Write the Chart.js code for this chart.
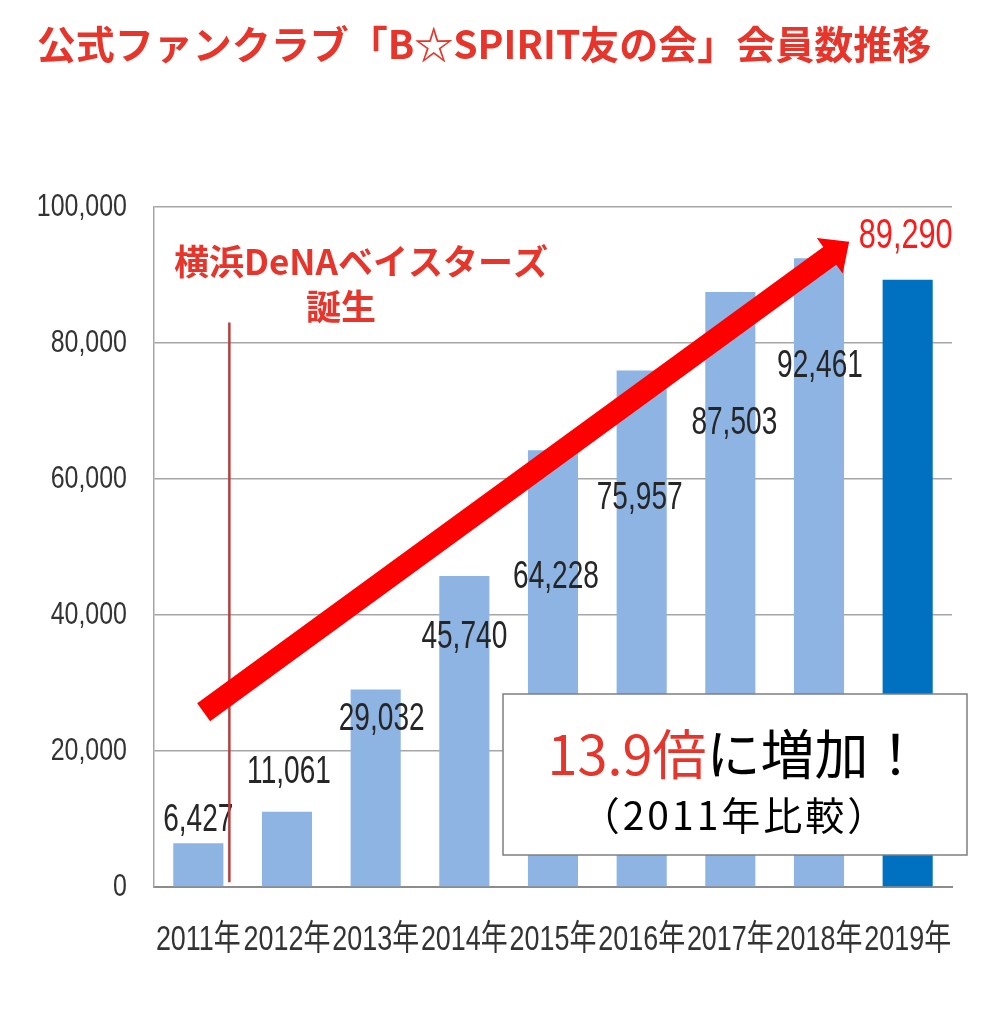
<!DOCTYPE html>
<html>
<head>
<meta charset="utf-8">
<script src="https://cdn.jsdelivr.net/npm/chart.js@4.4.1/dist/chart.umd.min.js"></script>
<style>
html,body{margin:0;padding:0;background:#fff;}
#wrap{width:1004px;height:1024px;position:relative;}
</style>
</head>
<body>
<div id="wrap"><canvas id="c" width="1004" height="1024"></canvas></div>
<script>
// ---- data ----
const categories = ['2011年','2012年','2013年','2014年','2015年','2016年','2017年','2018年','2019年'];
const members = [6427, 11061, 29032, 45740, 64228, 75957, 87503, 92461, 89290];
const yTickValues = [0, 20000, 40000, 60000, 80000, 100000];
const titleText = '公式ファンクラブ「B☆SPIRIT友の会」会員数推移';
const eventText = ['横浜DeNAベイスターズ', '誕生'];
const growthText = ['13.9倍', 'に増加！', '（2011年比較）'];

const NUMF = "'Liberation Sans', 'Noto Sans CJK JP', sans-serif";
const JP = "'Noto Sans CJK JP', 'Noto Sans', sans-serif";
const RED = '#E8352B';

const fmt = v => Number(v).toLocaleString('en-US');

function condensed(ctx, text, x, y, font, k, align, color) {
  ctx.save();
  ctx.translate(x, y);
  ctx.scale(k, 1);
  ctx.font = font;
  ctx.textAlign = align;
  ctx.textBaseline = 'middle';
  ctx.fillStyle = color;
  ctx.fillText(text, 0, 0);
  ctx.restore();
}

const annot = {
  id: 'annot',
  afterDatasetsDraw(chart, args, o) {
    const ctx = chart.ctx;
    const xs = chart.scales.x, ys = chart.scales.y;
    const meta = chart.getDatasetMeta(0);
    ctx.save();
    // axis tick labels (condensed)
    ys.ticks.forEach(t => {
      condensed(ctx, fmt(t.value), ys.right - 27, ys.getPixelForValue(t.value), '32px ' + NUMF, 0.78, 'right', '#333');
    });
    xs.ticks.forEach((t, i) => {
      condensed(ctx, categories[i], xs.getPixelForTick(i), xs.top + 53, '35px ' + NUMF, 0.77, 'center', '#333');
    });
    // value labels
    meta.data.forEach((bar, i) => {
      const last = i === members.length - 1;
      condensed(ctx, fmt(members[i]), bar.x + o.labelDx[i], bar.y + o.labelDy[i],
        last ? '42px ' + NUMF : '39px ' + NUMF, last ? 0.73 : 0.72, 'center', last ? '#FF1A1A' : '#262626');
    });
    // vertical event line
    const lx = xs.getPixelForValue(o.eventLine.x);
    ctx.strokeStyle = '#B5403F';
    ctx.lineWidth = 2.5;
    ctx.beginPath();
    ctx.moveTo(lx, ys.getPixelForValue(o.eventLine.from));
    ctx.lineTo(lx, ys.getPixelForValue(o.eventLine.to));
    ctx.stroke();
    // event text
    ctx.textAlign = 'center';
    ctx.textBaseline = 'middle';
    ctx.fillStyle = RED;
    ctx.font = 'bold 35px ' + JP;
    ctx.fillText(eventText[0], o.eventTextPos[0], o.eventTextPos[1]);
    ctx.fillText(eventText[1], o.eventTextPos[2], o.eventTextPos[3]);
    // arrow
    const p0 = {x: xs.getPixelForValue(o.arrow.x0), y: ys.getPixelForValue(o.arrow.y0)};
    const p1 = {x: xs.getPixelForValue(o.arrow.x1), y: ys.getPixelForValue(o.arrow.y1)};
    const dx = p1.x - p0.x, dy = p1.y - p0.y, len = Math.hypot(dx, dy);
    const u = {x: dx/len, y: dy/len}, n = {x: -u.y, y: u.x};
    const w = o.arrow.shaft/2, hw = o.arrow.headHalf, L = o.arrow.headLen;
    const b = {x: p1.x - u.x*L, y: p1.y - u.y*L};
    ctx.fillStyle = '#FF0000';
    ctx.beginPath();
    ctx.moveTo(p0.x + n.x*w, p0.y + n.y*w);
    ctx.lineTo(b.x + n.x*w, b.y + n.y*w);
    ctx.lineTo(b.x + n.x*hw, b.y + n.y*hw);
    ctx.lineTo(p1.x, p1.y);
    ctx.lineTo(b.x - n.x*hw, b.y - n.y*hw);
    ctx.lineTo(b.x - n.x*w, b.y - n.y*w);
    ctx.lineTo(p0.x - n.x*w, p0.y - n.y*w);
    ctx.closePath();
    ctx.fill();
    // growth box
    const bx = o.box;
    ctx.fillStyle = '#FFFFFF';
    ctx.fillRect(bx.x, bx.y, bx.w, bx.h);
    ctx.strokeStyle = '#7F7F7F';
    ctx.lineWidth = 1.5;
    ctx.strokeRect(bx.x, bx.y, bx.w, bx.h);
    const cx = bx.x + bx.w/2;
    ctx.font = '54px ' + JP;
    const w1 = ctx.measureText(growthText[0]).width;
    const w2 = ctx.measureText(growthText[1]).width;
    const sx = cx - (w1 + w2)/2 + o.line1Dx;
    ctx.textAlign = 'left';
    ctx.fillStyle = RED;
    ctx.fillText(growthText[0], sx, bx.y + o.line1Dy);
    ctx.fillStyle = '#000';
    ctx.fillText(growthText[1], sx + w1, bx.y + o.line1Dy);
    ctx.textAlign = 'center';
    ctx.font = '39px ' + JP;
    try { ctx.letterSpacing = '3px'; } catch (e) {}
    ctx.fillText(growthText[2], cx, bx.y + o.line2Dy);
    try { ctx.letterSpacing = '0px'; } catch (e) {}
    // title
    ctx.fillStyle = RED;
    ctx.font = 'bold 39px ' + JP;
    ctx.fillText(titleText, o.titlePos[0], o.titlePos[1]);
    ctx.restore();
  }
};

new Chart(document.getElementById('c'), {
  type: 'bar',
  data: {
    labels: categories,
    datasets: [{
      data: members,
      backgroundColor: members.map((_, i) => i === members.length - 1 ? '#0070C0' : '#8DB4E2'),
      borderWidth: 0,
      categoryPercentage: 1,
      barPercentage: 0.565
    }]
  },
  options: {
    responsive: false,
    animation: false,
    devicePixelRatio: 1,
    layout: {padding: {top: 207, right: 52, left: 0, bottom: 0}},
    plugins: {
      legend: {display: false},
      tooltip: {enabled: false},
      annot: {
        labelDx: [0, 2, 6, 0, 3, -2, 4, 1, -2],
        labelDy: [-23, -40, 30, 61, 127, 128, 131, 108, -43],
        eventLine: {x: 0.35, from: 700, to: 83000},
        eventTextPos: [361, 262, 341, 307],
        arrow: {x0: 0.06, y0: 25700, x1: 7.34, y1: 94900, shaft: 22, headHalf: 22, headLen: 24},
        box: {x: 503, y: 694, w: 464, h: 161},
        line1Dx: 0, line1Dy: 60, line2Dy: 121,
        titlePos: [484, 44]
      }
    },
    scales: {
      x: {
        grid: {display: false, drawTicks: false},
        border: {color: '#8C8C8C', width: 2},
        ticks: {display: false, autoSkip: false, maxRotation: 0},
        afterFit(s) { s.height = 137; }
      },
      y: {
        min: 0, max: 100000,
        afterBuildTicks(s) { s.ticks = yTickValues.map(v => ({value: v})); },
        ticks: {display: false},
        grid: {color: '#A6A6A6', lineWidth: 1.5, drawTicks: false},
        border: {color: '#A6A6A6', width: 1.5},
        afterFit(s) { s.width = 154; }
      }
    }
  },
  plugins: [annot]
});
</script>
</body>
</html>
